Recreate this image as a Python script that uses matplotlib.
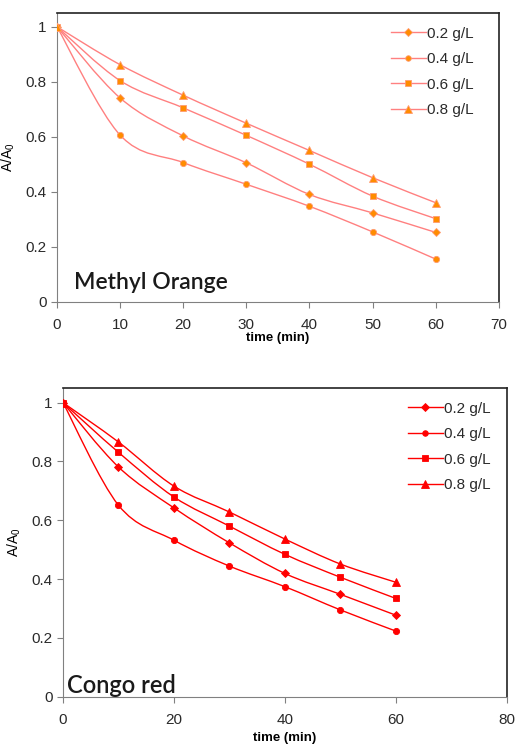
import numpy as np
import matplotlib
matplotlib.use("Agg")
import matplotlib.pyplot as plt
from matplotlib.path import Path
from matplotlib.patches import PathPatch
from matplotlib.lines import Line2D

# data
time_mo = [0, 10, 20, 30, 40, 50, 60]
labels = ["0.2 g/L", "0.4 g/L", "0.6 g/L", "0.8 g/L"]
markers = ["D", "o", "s", "^"]

mo_02 = [1.0, 0.741, 0.603, 0.505, 0.39, 0.323, 0.252]
mo_04 = [1.0, 0.606, 0.506, 0.427, 0.347, 0.254, 0.155]
mo_06 = [1.0, 0.804, 0.705, 0.605, 0.50, 0.384, 0.302]
mo_08 = [1.0, 0.862, 0.751, 0.649, 0.55, 0.451, 0.36]

time_cr = [0, 10, 20, 30, 40, 50, 60]
cr_02 = [1.0, 0.781, 0.642, 0.523, 0.419, 0.348, 0.277]
cr_04 = [1.0, 0.651, 0.532, 0.444, 0.374, 0.295, 0.223]
cr_06 = [1.0, 0.831, 0.679, 0.58, 0.484, 0.406, 0.334]
cr_08 = [1.0, 0.866, 0.716, 0.628, 0.536, 0.451, 0.389]

yticks = [0, 0.2, 0.4, 0.6, 0.8, 1.0]
ytick_labels = ["0", "0.2", "0.4", "0.6", "0.8", "1"]

plt.rcParams['font.family'] = ['Liberation Sans', 'DejaVu Sans']


def smooth_curve(ax, x, y, color):
    # excel-like smoothed line: cubic bezier segments through the points
    x = np.asarray(x, float)
    y = np.asarray(y, float)
    n = len(x)
    verts = [(x[0], y[0])]
    codes = [Path.MOVETO]
    for i in range(n - 1):
        a = max(i - 1, 0)
        b = min(i + 2, n - 1)
        c1 = (x[i] + (x[i + 1] - x[a]) / 6, y[i] + (y[i + 1] - y[a]) / 6)
        c2 = (x[i + 1] - (x[b] - x[i]) / 6, y[i + 1] - (y[b] - y[i]) / 6)
        verts += [c1, c2, (x[i + 1], y[i + 1])]
        codes += [Path.CURVE4, Path.CURVE4, Path.CURVE4]
    ax.add_patch(PathPatch(Path(verts, codes), fill=False, edgecolor=color, lw=1.0))


def draw_panel(ax, t, series, line_c, face_c, edge_c, xmax, xstep, name, name_xy, name_size, leg_x):
    handles = []
    for vals, m, lab in zip(series, markers, labels):
        smooth_curve(ax, t, vals, line_c)
        ms = 6 if m == "^" else (5 if m == "s" else 4.5)
        ax.plot(t, vals, ls="none", marker=m, ms=ms, mfc=face_c, mec=edge_c, mew=0.6, zorder=3)
        handles.append(Line2D([], [], color=line_c, lw=1.0, marker=m, ms=ms - 0.5,
                              mfc=face_c, mec=edge_c, mew=0.6, label=lab))
    ax.set_xlim(0, xmax)
    ax.set_ylim(0, 1.05)
    ax.set_xticks(np.arange(0, xmax + 1, xstep))
    ax.set_yticks(yticks)
    ax.set_yticklabels(ytick_labels)
    ax.tick_params(direction="out", length=4, width=0.8, color="#808080",
                   labelsize=11, labelcolor="#2a2a2a")
    ax.tick_params(axis="x", pad=8)
    for s in ["left", "bottom"]:
        ax.spines[s].set_color("#808080")
    for s in ["top", "right"]:
        ax.spines[s].set_color("#222222")
        ax.spines[s].set_linewidth(1.2)
    leg = ax.legend(handles=handles, loc="upper right", frameon=False, fontsize=11,
                    handlelength=2.3, handletextpad=0.1, labelspacing=0.75,
                    bbox_to_anchor=(leg_x, 1.0))
    for tx in leg.get_texts():
        tx.set_color("#2a2a2a")
    ax.text(name_xy[0], name_xy[1], name, transform=ax.transAxes, fontsize=name_size,
            family="Lato", fontweight="semibold", color="#1a1a1a", va="center")
    ax.set_ylabel("A/A$_\\mathregular{0}$", fontsize=10, labelpad=6)


fig = plt.figure(figsize=(5.18, 7.44), dpi=100)

ax1 = fig.add_axes([0.110, 0.5945, 0.853, 0.388])
draw_panel(ax1, time_mo, [mo_02, mo_04, mo_06, mo_08], "#ff8080", "#ff8c00", "#ff9a70",
           70, 10, "Methyl Orange", (0.038, 0.065), 16.5, 0.975)
ax1.set_xlabel("time (min)", fontsize=9.5, fontweight="bold", labelpad=0)

ax2 = fig.add_axes([0.1216, 0.0636, 0.857, 0.415])
draw_panel(ax2, time_cr, [cr_02, cr_04, cr_06, cr_08], "#ff0000", "#ff0000", "#ff0000",
           80, 20, "Congo red", (0.008, 0.035), 17, 0.995)
ax2.set_xlabel("time (min)", fontsize=9.5, fontweight="bold", labelpad=3)

fig.savefig("out.png", dpi=100)
